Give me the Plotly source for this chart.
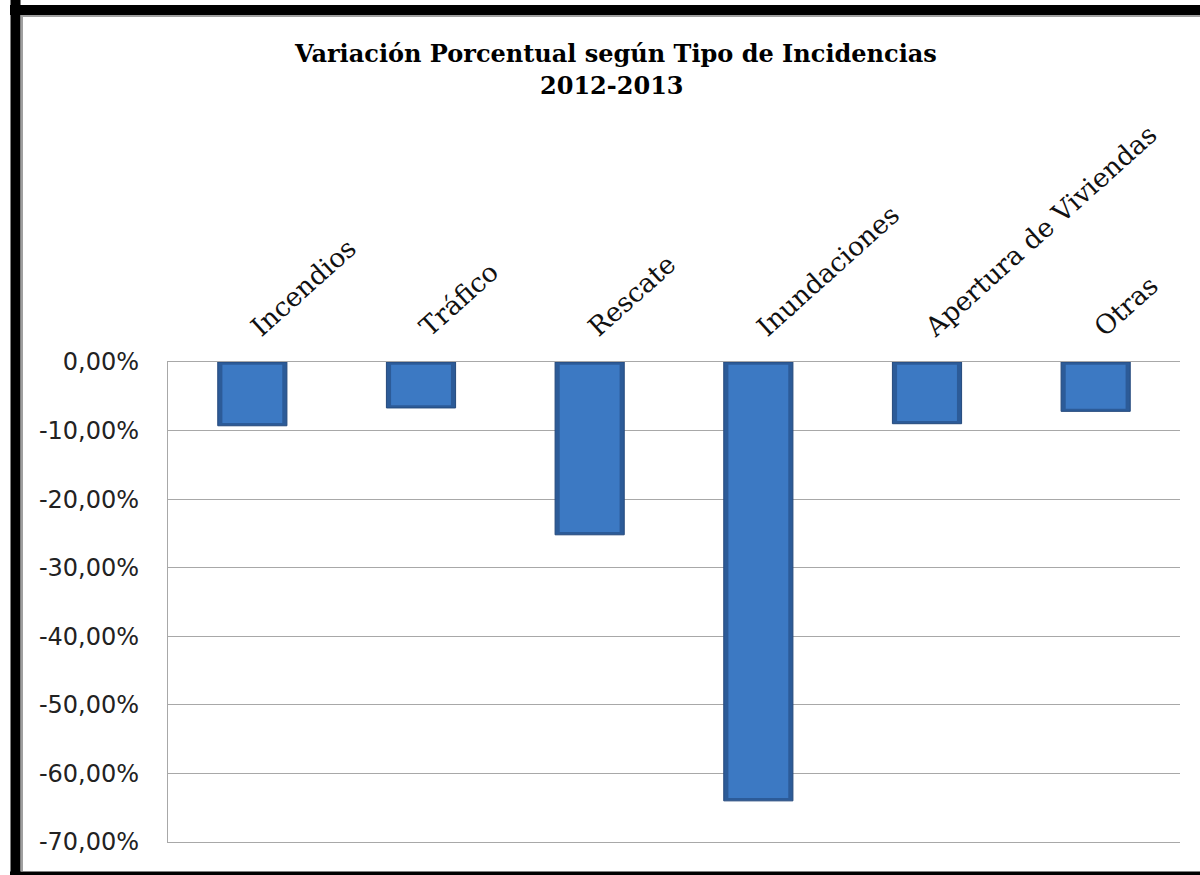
import plotly.graph_objects as go

categorias = ["Incendios", "Tráfico", "Rescate", "Inundaciones", "Apertura de Viviendas", "Otras"]
variacion = [-0.093, -0.067, -0.252, -0.640, -0.090, -0.072]

y_ticks = [0, -0.1, -0.2, -0.3, -0.4, -0.5, -0.6, -0.7]
y_labels = ["0,00%", "-10,00%", "-20,00%", "-30,00%", "-40,00%", "-50,00%", "-60,00%", "-70,00%"]

titulo = "Variación Porcentual según Tipo de Incidencias"
periodo = "2012-2013"

W, H = 1200, 875
L, R, T, B = 168, 1180, 362, 842


def px(x):
    return (x - L) / (R - L)


def py(y):
    return (B - y) / (B - T)


fig = go.Figure()

# outer bar (darker edge) + inner lighter face for a bevel look
fig.add_trace(go.Bar(
    x=categorias, y=variacion, width=0.41,
    marker=dict(color="#2C5B98", line=dict(color="#24497C", width=1)),
    hoverinfo="skip",
))
fig.add_trace(go.Bar(
    x=categorias, y=[v + 0.008 for v in variacion], base=-0.004, width=0.355,
    marker=dict(color="#3C79C3", line=dict(width=0)),
))

fig.update_layout(
    width=W, height=H,
    margin=dict(l=L, r=W - R, t=T, b=H - B),
    paper_bgcolor="white", plot_bgcolor="white",
    barmode="overlay", showlegend=False,
    separators=",.",
)

title_font = dict(family="DejaVu Serif", size=24, color="black")
fig.add_annotation(text=f"<b>{titulo}</b>", xref="paper", yref="paper",
                   x=px(615), y=py(53), xanchor="center", yanchor="middle",
                   showarrow=False, font=title_font)
fig.add_annotation(text=f"<b>{periodo}</b>", xref="paper", yref="paper",
                   x=px(612), y=py(85), xanchor="center", yanchor="middle",
                   showarrow=False, font=title_font)

fig.update_xaxes(
    side="top", tickangle=-42,
    tickfont=dict(family="DejaVu Serif", size=26.5, color="#111"),
    showgrid=False, showline=True, mirror=True, linecolor="#A8A8A8", linewidth=1.3,
    ticks="", ticklabelstandoff=9,
)
fig.update_yaxes(
    range=[-0.70, 0], tickvals=y_ticks, ticktext=y_labels,
    tickfont=dict(family="DejaVu Sans", size=24, color="#222"),
    showgrid=True, gridcolor="#A8A8A8", gridwidth=1.3,
    zeroline=False, showline=True, linecolor="#A8A8A8", linewidth=1.3,
    ticks="", ticklabelstandoff=23,
)

# chart frame
frame = [
    dict(x0=px(15.5), x1=px(15.5), y0=py(0), y1=py(H), width=10, color="black"),
    dict(x0=px(10), x1=px(1210), y0=py(10), y1=py(10), width=10, color="black"),
    dict(x0=px(10), x1=px(1210), y0=py(873.5), y1=py(873.5), width=4, color="black"),
    dict(x0=px(22), x1=px(22), y0=py(15), y1=py(871), width=2, color="#A0A0A0"),
    dict(x0=px(21), x1=px(1210), y0=py(16), y1=py(16), width=2, color="#A0A0A0"),
]
for f in frame:
    fig.add_shape(type="line", xref="paper", yref="paper",
                  x0=f["x0"], x1=f["x1"], y0=f["y0"], y1=f["y1"],
                  line=dict(color=f["color"], width=f["width"]), layer="above")

fig.write_html("out.html", config={"displayModeBar": False},
               post_script="document.body.style.margin='0';")
